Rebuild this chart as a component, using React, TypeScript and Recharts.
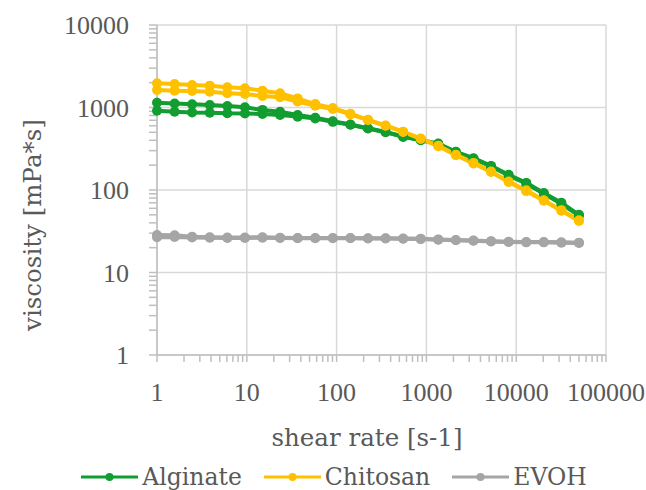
import { LineChart, Line, XAxis, YAxis, CartesianGrid, Legend, Label } from "recharts";

// shear rate [s-1], 25 log-spaced points from 1 to 50000
const SHEAR_RATE = [
  1, 1.57, 2.46, 3.87, 6.07, 9.53, 14.95, 23.47, 36.84, 57.83, 90.78, 142.5, 223.6, 351.1, 551, 864.8, 1357,
  2130, 3344, 5248, 8238, 12931, 20297, 31860, 50000,
];

// viscosity [mPa*s], two runs per material
const ALGINATE_A = [
  1140, 1120, 1095, 1070, 1040, 1005, 935, 890, 810, 750, 680, 622, 560, 505, 445, 405, 365, 290, 243, 196, 153,
  122, 92, 70, 50,
];
const ALGINATE_B = [
  915, 890, 872, 865, 850, 845, 834, 811, 775, 735, 670, 618, 557, 502, 440, 400, 360, 286, 240, 193, 150, 120,
  90, 68, 49,
];
const CHITOSAN_A = [
  1965, 1930, 1875, 1840, 1760, 1710, 1600, 1490, 1290, 1100, 985, 840, 710, 605, 510, 420, 345, 268, 213, 168,
  127, 99, 75, 57, 43,
];
const CHITOSAN_B = [
  1630, 1600, 1590, 1555, 1490, 1460, 1380, 1330, 1180, 1050, 960, 825, 705, 600, 505, 415, 340, 264, 210, 165,
  125, 97, 74, 56, 42,
];
const EVOH_A = [
  28.5, 28.2, 27.2, 26.8, 26.6, 26.6, 26.8, 26.4, 26.2, 26.2, 26.2, 26.2, 26.0, 26.0, 25.8, 25.6, 25.2, 24.8,
  24.4, 24.0, 23.6, 23.4, 23.4, 23.2, 23.0,
];
const EVOH_B = [
  26.8, 27.0, 26.6, 26.4, 26.2, 26.2, 26.4, 26.2, 26.0, 26.0, 26.0, 26.0, 25.8, 25.8, 25.6, 25.4, 25.0, 24.6,
  24.2, 23.8, 23.4, 23.2, 23.2, 23.0, 22.8,
];

const X_MAJOR = [1, 10, 100, 1000, 10000, 100000];
const Y_MAJOR = [1, 10, 100, 1000, 10000];

const GREEN = "#119d2f";
const YELLOW = "#ffc000";
const GRAY = "#a5a5a5";
const TEXT = "#595959";
const AXIS = "#bfbfbf";
const GRID = "#d9d9d9";
const TICK_FONT = "'Liberation Serif', serif";
const TITLE_FONT = "'DejaVu Serif', serif";

// minor ticks 2..9 inside each decade
const withMinors = (majors: number[]) =>
  majors
    .concat(majors.slice(0, -1).flatMap((m) => [2, 3, 4, 5, 6, 7, 8, 9].map((k) => k * m)))
    .sort((a, b) => a - b);

const data = SHEAR_RATE.map((x, i) => ({
  x,
  algA: ALGINATE_A[i],
  algB: ALGINATE_B[i],
  chiA: CHITOSAN_A[i],
  chiB: CHITOSAN_B[i],
  evohA: EVOH_A[i],
  evohB: EVOH_B[i],
}));

const SERIES = [
  { key: "algA", name: "Alginate", color: GREEN, legend: true },
  { key: "algB", name: "Alginate", color: GREEN, legend: false },
  { key: "chiA", name: "Chitosan", color: YELLOW, legend: true },
  { key: "chiB", name: "Chitosan", color: YELLOW, legend: false },
  { key: "evohA", name: "EVOH", color: GRAY, legend: true },
  { key: "evohB", name: "EVOH", color: GRAY, legend: false },
];

function XTick({ x, y, payload }: any) {
  if (!X_MAJOR.includes(payload.value)) return <g />;
  return (
    <text x={x} y={y + 37} textAnchor="middle" fill={TEXT} fontSize={26} fontFamily={TICK_FONT}>
      {payload.value}
    </text>
  );
}

function YTick({ x, y, payload }: any) {
  if (!Y_MAJOR.includes(payload.value)) return <g />;
  return (
    <text x={x - 18} y={y + 9} textAnchor="end" fill={TEXT} fontSize={26} fontFamily={TICK_FONT}>
      {payload.value}
    </text>
  );
}

function LegendRow({ payload }: any) {
  const seen = new Set<string>();
  const items = (payload ?? []).filter((p: any) => {
    if (p.type === "none" || seen.has(p.value)) return false;
    seen.add(p.value);
    return true;
  });
  return (
    <div style={{ display: "flex", justifyContent: "center", alignItems: "center", gap: 22 }}>
      {items.map((p: any) => (
        <div key={p.value} style={{ display: "flex", alignItems: "center", gap: 4 }}>
          <svg width={57} height={12}>
            <line x1={0} y1={6} x2={57} y2={6} stroke={p.color} strokeWidth={3} />
            <circle cx={28.5} cy={6} r={4} fill={p.color} />
          </svg>
          <span style={{ fontFamily: TITLE_FONT, fontSize: 23.5, color: TEXT, lineHeight: "30px" }}>{p.value}</span>
        </div>
      ))}
    </div>
  );
}

export default function App() {
  return (
    <div style={{ position: "absolute", left: 0, top: 0, width: 646, height: 490, background: "#fff" }}>
      <LineChart width={646} height={490} data={data} margin={{ top: 25, right: 40, bottom: 100, left: 97 }}>
        <CartesianGrid stroke={GRID} strokeWidth={1.5} horizontalValues={Y_MAJOR} verticalValues={X_MAJOR} />
        <XAxis
          dataKey="x"
          type="number"
          scale="log"
          domain={[1, 100000]}
          ticks={withMinors(X_MAJOR)}
          interval={0}
          height={35}
          stroke={AXIS}
          strokeWidth={1.5}
          tickSize={7}
          tick={<XTick />}
        >
          <Label
            content={() => (
              <text x={367} y={446} textAnchor="middle" fill={TEXT} fontSize={24.5} fontFamily={TITLE_FONT}>
                shear rate [s-1]
              </text>
            )}
          />
        </XAxis>
        <YAxis
          type="number"
          scale="log"
          domain={[1, 10000]}
          ticks={withMinors(Y_MAJOR)}
          interval={0}
          width={60}
          stroke={AXIS}
          strokeWidth={1.5}
          tickSize={8}
          tick={<YTick />}
        >
          <Label
            content={() => (
              <text
                transform="translate(41,225) rotate(-90)"
                textAnchor="middle"
                fill={TEXT}
                fontSize={24.5}
                fontFamily={TITLE_FONT}
              >
                viscosity [mPa*s]
              </text>
            )}
          />
        </YAxis>
        {SERIES.map((s) => (
          <Line
            key={s.key}
            type="linear"
            dataKey={s.key}
            name={s.name}
            stroke={s.color}
            strokeWidth={4}
            dot={{ r: 5, fill: s.color, stroke: s.color, strokeWidth: 0 }}
            activeDot={false}
            legendType={s.legend ? "line" : "none"}
            isAnimationActive={false}
          />
        ))}
        <Legend
          layout="horizontal"
          verticalAlign="middle"
          align="center"
          wrapperStyle={{ left: 22, top: 462, width: 624 }}
          content={<LegendRow />}
        />
      </LineChart>
    </div>
  );
}
